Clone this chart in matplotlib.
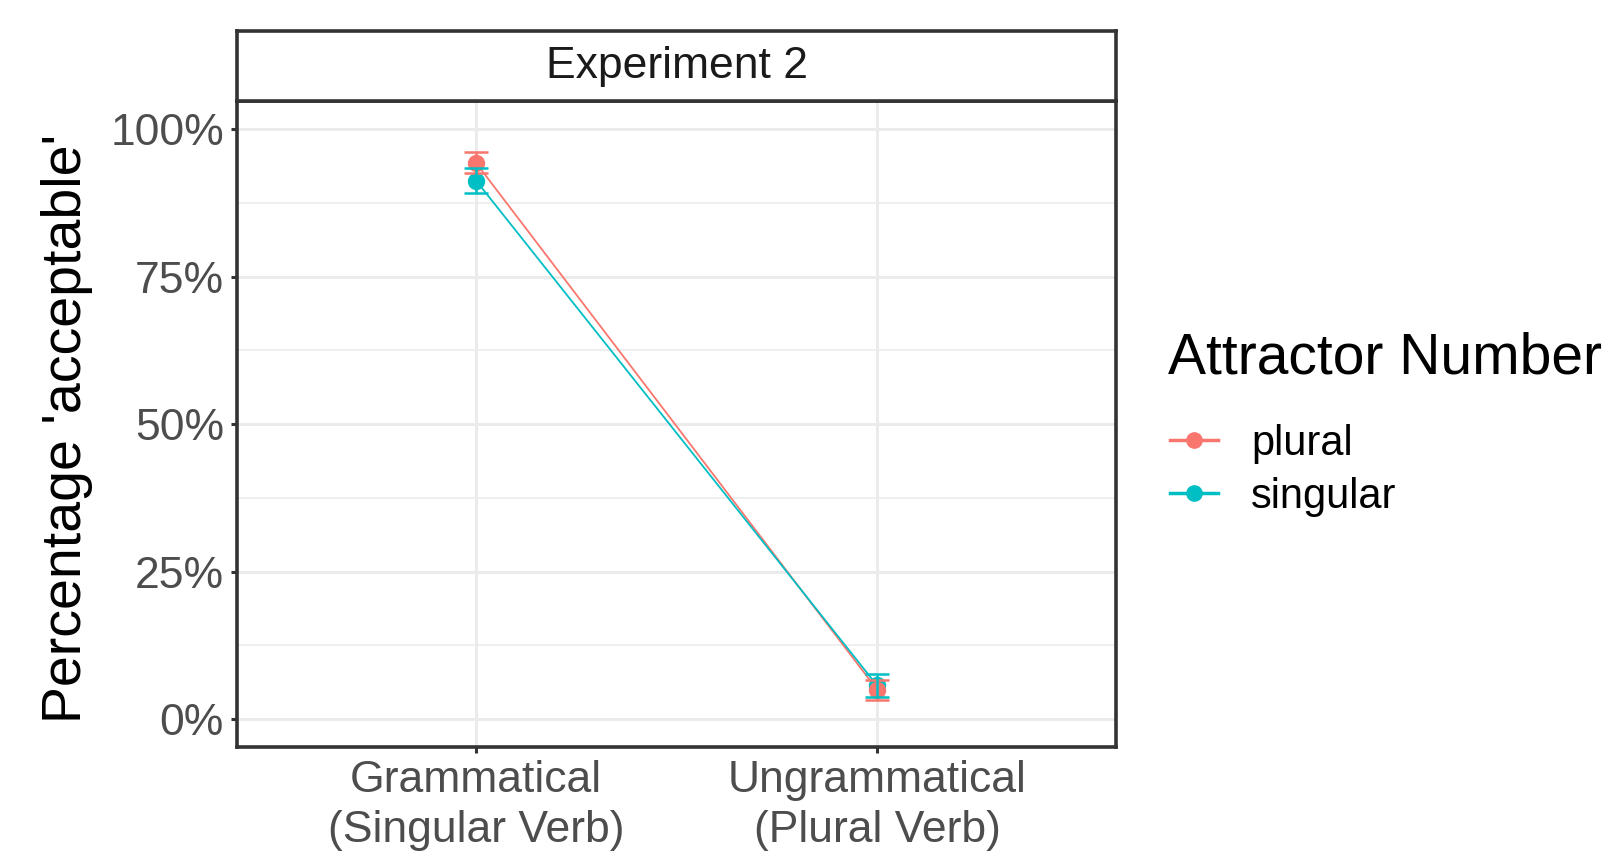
#!/usr/bin/env python3

import matplotlib

matplotlib.use("Agg")
import matplotlib.pyplot as plt
from matplotlib.lines import Line2D
from matplotlib.ticker import PercentFormatter

conditions = ["Grammatical\n(Singular Verb)", "Ungrammatical\n(Plural Verb)"]
attractors = ["plural", "singular"]
colors = {"plural": "#F8766D", "singular": "#00BFC4"}

plural_mean = [0.943, 0.050]
plural_low = [0.925, 0.033]
plural_high = [0.962, 0.066]

singular_mean = [0.913, 0.057]
singular_low = [0.892, 0.037]
singular_high = [0.934, 0.077]

y_ticks = [0.0, 0.25, 0.5, 0.75, 1.0]
y_minor_ticks = [0.125, 0.375, 0.625, 0.875]

panel_title = "Experiment 2"
y_label = "Percentage 'acceptable'"
legend_title = "Attractor Number"

W, H = 1612, 855
BORDER = "#333333"
GRID = "#EBEBEB"


def Fx(px: float) -> float:
    return px / W


def Fy(py: float) -> float:
    return 1 - py / H


def Main() -> None:
    plt.rcParams["font.family"] = ["Liberation Sans", "DejaVu Sans"]
    fig = plt.figure(figsize=(W / 100, H / 100), dpi=100)

    left, right, top, bottom = 237, 1116, 101.5, 747.3
    ax = fig.add_axes([Fx(left), Fy(bottom), Fx(right - left), (bottom - top) / H])

    series = {
        "plural": (plural_mean, plural_low, plural_high),
        "singular": (singular_mean, singular_low, singular_high),
    }
    # lines: singular over plural; points: plural over singular
    line_z = {"plural": 2.0, "singular": 2.1}
    point_z = {"plural": 3.1, "singular": 3.0}
    x = list(range(len(conditions)))
    handles = []
    for name in attractors:
        mean, low, high = series[name]
        ax.plot(x, mean, color=colors[name], linewidth=1.3, zorder=line_z[name])
        ax.plot(
            x, mean, color=colors[name], linestyle="none", marker="o",
            markersize=11.5, zorder=point_z[name],
        )
        ax.errorbar(
            x, mean,
            yerr=[[m - lo for m, lo in zip(mean, low)],
                  [hi - m for m, hi in zip(mean, high)]],
            fmt="none", ecolor=colors[name], elinewidth=1.8,
            capsize=8.3, capthick=1.8, zorder=4,
        )
        handles.append(
            Line2D([], [], color=colors[name], linewidth=2.5, marker="o",
                   markersize=11)
        )

    ax.set_xlim(-0.596, 1.596)
    ax.set_ylim(-0.048, 1.047)
    ax.set_xticks(x)
    ax.set_xticklabels(conditions, linespacing=1.27)
    ax.set_yticks(y_ticks)
    ax.set_yticks(y_minor_ticks, minor=True)
    ax.yaxis.set_major_formatter(PercentFormatter(1.0, decimals=0))

    ax.grid(True, which="major", color=GRID, linewidth=2.1, zorder=0)
    ax.grid(True, which="minor", axis="y", color=GRID, linewidth=1.1, zorder=0)
    ax.set_axisbelow(True)
    ax.tick_params(which="minor", length=0)
    ax.tick_params(
        which="major", length=4.3, width=2.2, color=BORDER,
        labelcolor="#4D4D4D", labelsize=32, pad=5,
    )
    for spine in ax.spines.values():
        spine.set_color(BORDER)
        spine.set_linewidth(2.6)

    fig.text(
        Fx(67), Fy(428), y_label, rotation=90, ha="center", va="center",
        fontsize=40, color="black",
    )

    strip = fig.add_axes([Fx(left), Fy(top), Fx(right - left), (top - 30.7) / H])
    strip.set_xticks([])
    strip.set_yticks([])
    for spine in strip.spines.values():
        spine.set_color(BORDER)
        spine.set_linewidth(2.6)
    strip.text(
        0.5, 0.5, panel_title, transform=strip.transAxes, ha="center",
        va="center", fontsize=32, color="#1A1A1A",
    )

    fig.text(
        Fx(1168), Fy(374), legend_title, ha="left", va="baseline",
        fontsize=41, color="black",
    )
    fig.legend(
        handles=handles, labels=attractors,
        loc="upper left", bbox_to_anchor=(Fx(1170), Fy(424)),
        frameon=False, fontsize=30, borderpad=0,
        borderaxespad=0, handlelength=1.15, handletextpad=0.8,
        labelspacing=0.3,
    )

    fig.savefig("out.png", dpi=100)
    plt.close(fig)


if __name__ == "__main__":
    Main()
